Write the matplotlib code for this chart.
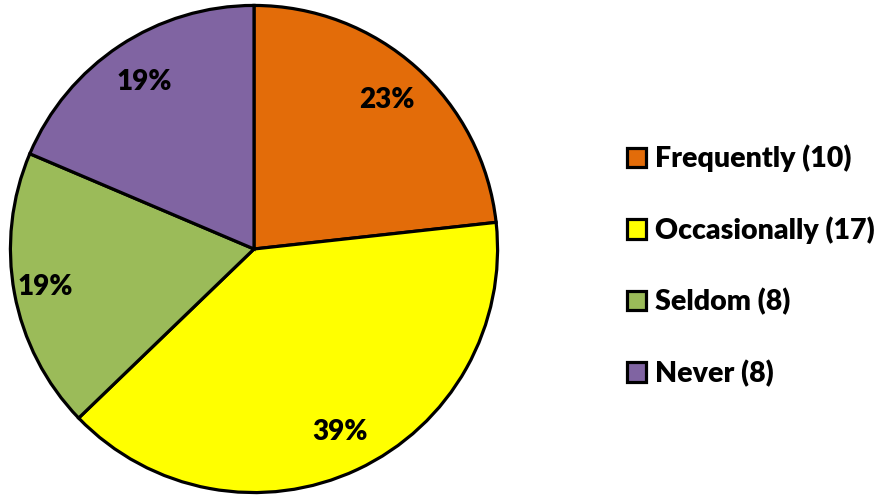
import matplotlib
matplotlib.use("Agg")
import numpy as np
import matplotlib.pyplot as plt
from matplotlib.patches import Patch

categories = ["Frequently", "Occasionally", "Seldom", "Never"]
counts = [10, 17, 8, 8]
pct_labels = ["23%", "39%", "19%", "19%"]
colors = ["#E36C09", "#FFFF00", "#9BBB59", "#8064A2"]
label_dist = [0.82, 0.83, 0.87, 0.82]

plt.rcParams['font.family'] = ['Lato', 'DejaVu Sans']

W, H = 875, 501
fig = plt.figure(figsize=(W / 100, H / 100), dpi=100)
cx, cy, r = 254, 249, 246
ax = fig.add_axes([(cx - r) / W, (H - cy - r) / H, 2 * r / W, 2 * r / H])
wedges, texts = ax.pie(counts, colors=colors, startangle=90, counterclock=False,
                       labels=pct_labels, labeldistance=0.82,
                       wedgeprops=dict(edgecolor='black', linewidth=2.3),
                       textprops=dict(fontsize=20, fontweight='heavy', color='black'))
for w, t, d in zip(wedges, texts, label_dist):
    ang = np.deg2rad((w.theta1 + w.theta2) / 2)
    t.set_position((d * np.cos(ang), d * np.sin(ang)))
    t.set_ha('center')
    t.set_va('center')
ax.set_xlim(-1.01, 1.01)
ax.set_ylim(-1.01, 1.01)
ax.set_aspect('equal')
ax.axis('off')

handles = [Patch(facecolor=c, edgecolor='black', linewidth=2.3) for c in colors]
leg_labels = [f"{c} ({n})" for c, n in zip(categories, counts)]
leg = fig.legend(handles, leg_labels, loc='center left', bbox_to_anchor=(601 / W, 1 - 266 / H),
                 frameon=False, prop=dict(size=20.5, weight='heavy'),
                 handlelength=0.68, handleheight=0.68, handletextpad=0.3, labelspacing=1.55)

fig.savefig("out.png", dpi=100)
